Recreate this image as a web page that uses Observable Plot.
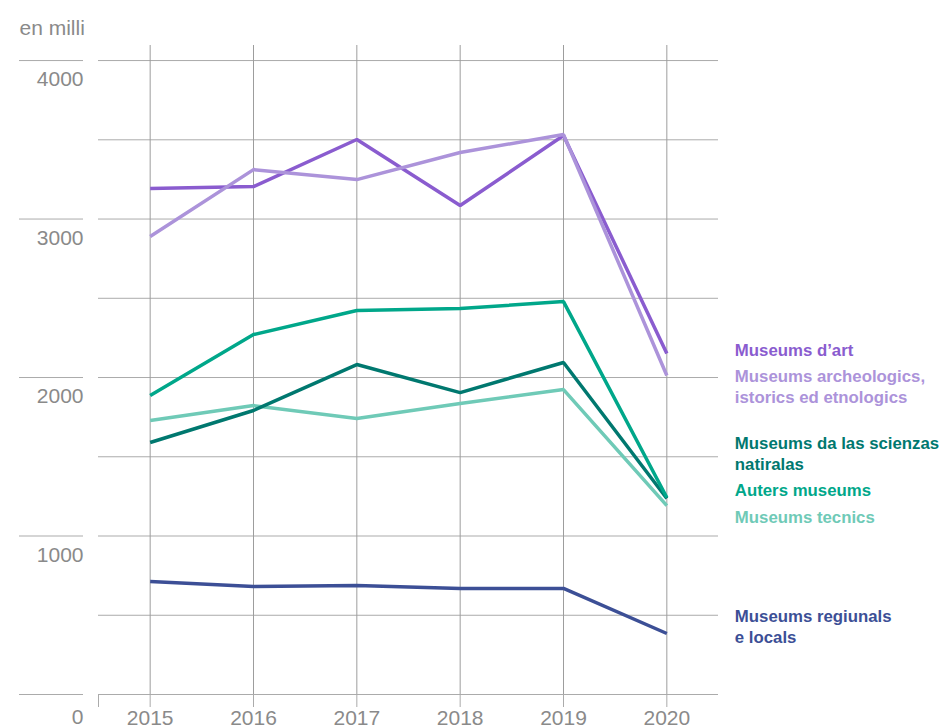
<!DOCTYPE html>
<html><head><meta charset="utf-8">
<script src="https://cdn.jsdelivr.net/npm/d3@7"></script>
<script src="https://cdn.jsdelivr.net/npm/@observablehq/plot@0.6"></script>
<style>body{margin:0;background:#fff;} svg{overflow:visible}</style>
</head><body><div id="chart"></div>
<script>
const years = [2015, 2016, 2017, 2018, 2019, 2020];
const seriesNames = [
  "Museums tecnics",
  "Museums da las scienzas\nnatiralas",
  "Auters museums",
  "Museums regiunals\ne locals",
  "Museums d’art",
  "Museums archeologics,\nistorics ed etnologics"
];
const tecnics    = [1729, 1823, 1741, 1836, 1924, 1192];
const scienzas   = [1590, 1792, 2082, 1905, 2095, 1237];
const auters     = [1886, 2271, 2423, 2435, 2479, 1243];
const regiunals  = [ 713,  681,  688,  669,  669,  385];
const art        = [3192, 3205, 3502, 3085, 3527, 2151];
const archeo     = [2890, 3312, 3249, 3420, 3533, 2013];
const seriesValues = [tecnics, scienzas, auters, regiunals, art, archeo];
const yTicks = [0, 1000, 2000, 3000, 4000];
const unitLabel = "en milli";

// styles (not data)
const colors = ["#6fcab7", "#00786f", "#00a78a", "#3c4f96", "#8a5ccf", "#ac93da"];
const labelDy = [10, -46, -9, -8, -5, 10];

const rows = seriesNames.flatMap((s, i) => years.map((y, j) => ({series: s, year: y, value: seriesValues[i][j]})));
const gray = "#8a8a8a";
const gridCol = "#ababab";
const x0 = years[0] - 0.5, x1 = years[years.length - 1] + 0.5;

const labelMarks = seriesNames.map((s, i) => Plot.text([{year: years[years.length-1], value: seriesValues[i][years.length-1], name: s}], {
  x: "year", y: "value", text: "name", dx: 68, dy: labelDy[i], textAnchor: "start",
  fill: colors[i], fontSize: 16.8, fontWeight: "bold", lineHeight: 1.3
}));

const chart = Plot.plot({
  width: 942, height: 728,
  marginLeft: 98, marginRight: 224, marginTop: 45, marginBottom: 34,
  style: {fontFamily: "'Liberation Sans', Arial, sans-serif", fontSize: "21px", background: "#fff"},
  x: {domain: [x0, x1]},
  y: {domain: [0, 4095]},
  color: {domain: seriesNames, range: colors},
  marks: [
    Plot.gridY({interval: 500, stroke: gridCol, strokeOpacity: 1}),
    Plot.gridX({ticks: years, stroke: "#9d9d9d", strokeOpacity: 1}),
    Plot.axisX({ticks: [x0, ...years], tickSize: 13, tickPadding: 3, stroke: gridCol, strokeOpacity: 1,
      tickFormat: d => years.includes(d) ? String(d) : "", fill: gray, fontSize: 21, label: null}),
    Plot.axisY({ticks: yTicks, tickSize: 64, dx: -15, tickFormat: () => "", stroke: gridCol, strokeOpacity: 1, label: null}),
    Plot.axisY({ticks: yTicks.filter(d => d > 0), tickSize: 0, tickPadding: 15, dy: 19, fill: gray, fontSize: 21, label: null, tickFormat: d => String(d)}),
    Plot.axisY({ticks: [0], tickSize: 0, tickPadding: 15, dy: 23, fill: gray, fontSize: 21, label: null, tickFormat: d => String(d)}),
    Plot.text([unitLabel], {frameAnchor: "top-left", dx: -79, dy: -25, textAnchor: "start", fill: gray, fontSize: 21}),
    Plot.line(rows, {x: "year", y: "value", z: "series", stroke: "series", strokeWidth: 3.5, strokeLinejoin: "miter", strokeLinecap: "butt"}),
    ...labelMarks
  ]
});
document.getElementById("chart").appendChild(chart);
</script>
</body></html>
